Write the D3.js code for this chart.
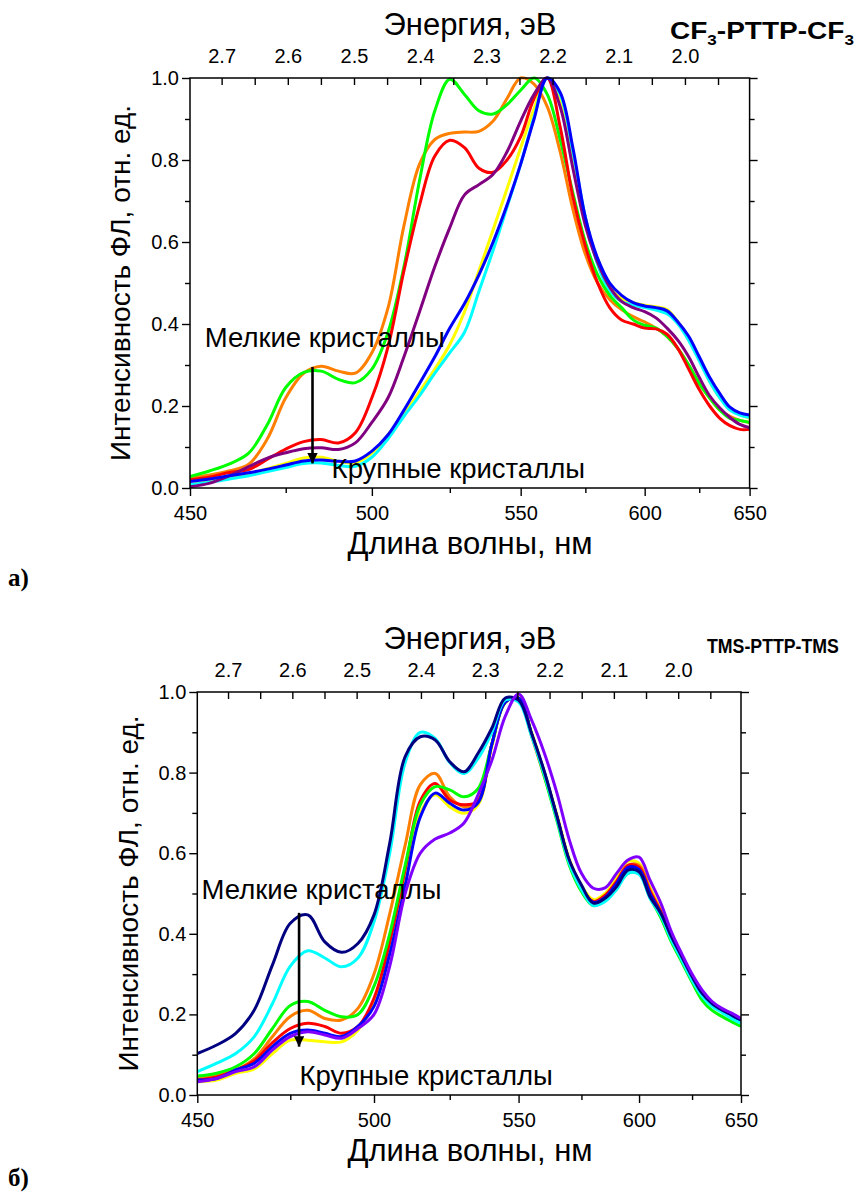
<!DOCTYPE html>
<html>
<head>
<meta charset="utf-8">
<script src="https://d3js.org/d3.v7.min.js"></script>
<style>
  body { margin: 0; background: #fff; }
  text { font-family: "Liberation Sans", Arial, sans-serif; fill: #000; }
</style>
</head>
<body>
<div id="chart"></div>
<script>
// энергия = HC / длина волны (нижняя ось), верхняя ось в исходнике чуть сдвинута
const HC = 1240;
const HC_TOP = 1236.5;

const wavelengths = d3.range(450, 651, 5);
const energyTicks = [2.7, 2.6, 2.5, 2.4, 2.3, 2.2, 2.1, 2.0];
const energyMinor = [2.65, 2.55, 2.45, 2.35, 2.25, 2.15, 2.05, 1.95];
const wavelengthTicks = [450, 500, 550, 600, 650];
const wavelengthMinor = [475, 525, 575, 625];
const yTicks = [0, 0.2, 0.4, 0.6, 0.8, 1.0];
const yMinor = [0.1, 0.3, 0.5, 0.7, 0.9];

// а) CF3-PTTP-CF3
const topYellow = [0.008,0.015,0.025,0.035,0.047,0.06,0.073,0.075,0.065,0.062,0.085,0.13,0.18,0.235,0.29,0.35,0.43,0.53,0.63,0.73,0.83,0.925,1.0,0.95,0.81,0.66,0.55,0.49,0.462,0.452,0.446,0.442,0.435,0.405,0.365,0.315,0.26,0.22,0.195,0.18,0.17];
const topCyan = [0.008,0.014,0.022,0.03,0.04,0.05,0.06,0.061,0.055,0.053,0.075,0.12,0.175,0.225,0.28,0.33,0.38,0.48,0.58,0.685,0.79,0.905,1.0,0.96,0.82,0.66,0.545,0.48,0.455,0.446,0.44,0.434,0.425,0.4,0.36,0.31,0.26,0.22,0.19,0.178,0.172];
const topOrange = [0.025,0.032,0.042,0.058,0.12,0.22,0.28,0.297,0.285,0.28,0.33,0.44,0.64,0.79,0.85,0.865,0.868,0.87,0.895,0.95,1.0,0.985,0.93,0.82,0.68,0.57,0.5,0.46,0.435,0.418,0.405,0.39,0.37,0.34,0.3,0.255,0.22,0.19,0.175,0.165,0.16];
const topGreen = [0.028,0.042,0.059,0.085,0.155,0.245,0.282,0.285,0.265,0.257,0.29,0.38,0.54,0.75,0.92,0.997,0.96,0.92,0.912,0.935,0.97,1.0,0.96,0.85,0.72,0.6,0.52,0.47,0.44,0.41,0.397,0.39,0.37,0.34,0.3,0.255,0.22,0.19,0.17,0.165,0.16];
const topRed = [0.02,0.027,0.038,0.045,0.07,0.095,0.113,0.118,0.11,0.135,0.22,0.345,0.53,0.69,0.81,0.848,0.83,0.78,0.77,0.8,0.857,0.95,1.0,0.88,0.71,0.59,0.5,0.44,0.41,0.4,0.39,0.388,0.375,0.34,0.29,0.24,0.2,0.17,0.152,0.143,0.143];
const topPurple = [0.003,0.012,0.03,0.052,0.073,0.086,0.096,0.098,0.094,0.11,0.16,0.22,0.32,0.43,0.54,0.635,0.715,0.74,0.765,0.82,0.895,0.96,1.0,0.93,0.78,0.64,0.55,0.49,0.455,0.44,0.43,0.415,0.39,0.36,0.32,0.27,0.225,0.195,0.172,0.155,0.147];
const topBlue = [0.016,0.022,0.03,0.037,0.046,0.056,0.066,0.068,0.065,0.066,0.09,0.13,0.19,0.255,0.32,0.39,0.45,0.52,0.6,0.69,0.79,0.9,1.0,0.965,0.83,0.66,0.56,0.5,0.47,0.452,0.444,0.44,0.432,0.405,0.37,0.32,0.27,0.23,0.197,0.183,0.178];

// б) TMS-PTTP-TMS
const botYellow = [0.033,0.037,0.054,0.065,0.103,0.136,0.136,0.132,0.132,0.161,0.23,0.36,0.54,0.7,0.745,0.715,0.699,0.72,0.865,0.975,0.985,0.9,0.8,0.695,0.585,0.52,0.485,0.5,0.54,0.58,0.575,0.515,0.46,0.4,0.345,0.295,0.255,0.23,0.212,0.2,0.19];
const botOrange = [0.041,0.05,0.062,0.09,0.145,0.195,0.21,0.19,0.186,0.215,0.3,0.45,0.62,0.77,0.798,0.74,0.715,0.73,0.87,0.975,0.985,0.89,0.79,0.69,0.58,0.515,0.48,0.495,0.53,0.57,0.57,0.51,0.455,0.395,0.34,0.29,0.25,0.225,0.21,0.198,0.185];
const botRed = [0.037,0.045,0.062,0.085,0.13,0.165,0.178,0.17,0.153,0.17,0.24,0.38,0.56,0.73,0.773,0.732,0.72,0.73,0.87,0.975,0.985,0.895,0.795,0.69,0.58,0.515,0.48,0.495,0.53,0.57,0.565,0.505,0.455,0.395,0.34,0.29,0.25,0.225,0.21,0.2,0.188];
const botGreen = [0.047,0.054,0.07,0.103,0.165,0.222,0.232,0.21,0.194,0.2,0.27,0.4,0.57,0.72,0.765,0.757,0.74,0.76,0.87,0.975,0.985,0.895,0.79,0.68,0.57,0.505,0.47,0.485,0.515,0.55,0.55,0.49,0.44,0.38,0.33,0.28,0.235,0.21,0.195,0.182,0.17];
const botBlue = [0.037,0.041,0.062,0.079,0.12,0.153,0.161,0.153,0.145,0.17,0.22,0.35,0.52,0.69,0.749,0.724,0.707,0.725,0.87,0.975,0.985,0.895,0.8,0.69,0.58,0.515,0.478,0.49,0.525,0.565,0.56,0.5,0.45,0.39,0.34,0.29,0.25,0.225,0.21,0.195,0.185];
const botCyan = [0.058,0.079,0.103,0.145,0.227,0.32,0.358,0.34,0.318,0.34,0.43,0.6,0.825,0.9,0.885,0.825,0.798,0.835,0.9,0.98,0.975,0.89,0.795,0.685,0.575,0.51,0.47,0.48,0.51,0.55,0.548,0.488,0.445,0.385,0.335,0.285,0.245,0.22,0.205,0.19,0.178];
const botNavy = [0.103,0.124,0.153,0.211,0.323,0.426,0.447,0.38,0.354,0.376,0.447,0.625,0.84,0.889,0.881,0.827,0.802,0.848,0.91,0.985,0.98,0.897,0.802,0.691,0.583,0.521,0.476,0.488,0.517,0.558,0.554,0.492,0.451,0.393,0.343,0.294,0.252,0.227,0.211,0.199,0.186];
const botViolet = [0.033,0.041,0.058,0.07,0.112,0.145,0.157,0.149,0.141,0.165,0.2,0.32,0.5,0.6,0.635,0.65,0.675,0.745,0.83,0.94,0.995,0.93,0.848,0.749,0.633,0.55,0.513,0.514,0.55,0.583,0.59,0.533,0.476,0.405,0.35,0.3,0.26,0.232,0.215,0.203,0.19];

const W = 858, H = 1195;
const svg = d3.select("#chart").append("svg")
  .attr("width", W)
  .attr("height", H)
  .style("background", "#fff");

const panels = [
  {
    left: 190, right: 749.6, top: 78, bottom: 488,
    title: ["CF", "3", "-PTTP-CF", "3"], titleX: 670, titleLen: 184, titleSize: 23,
    letter: "а)", letterY: 586,
    yLabelX: 130,
    series: [
      [topYellow, "#ffff00"], [topCyan, "#00ffff"], [topOrange, "#ff8000"],
      [topGreen, "#00ff00"], [topRed, "#ff0000"], [topPurple, "#800080"], [topBlue, "#0000ff"]
    ],
    small: [453.7, 0.344], big: [488, 0.024], arrow: [482.5, 0.295, 0.06]
  },
  {
    left: 197.3, right: 741, top: 692, bottom: 1095,
    title: ["TMS-PTTP-TMS"], titleX: 707, titleLen: 132, titleSize: 21,
    letter: "б)", letterY: 1186,
    yLabelX: 138,
    series: [
      [botYellow, "#ffff00"], [botOrange, "#ff8000"], [botRed, "#ff0000"], [botGreen, "#00ff00"],
      [botBlue, "#0000ff"], [botCyan, "#00ffff"], [botNavy, "#000080"], [botViolet, "#8000ff"]
    ],
    small: [451.1, 0.486], big: [477.6, 0.025], arrow: [477.5, 0.452, 0.12]
  }
];

svg.append("defs").append("marker")
  .attr("id", "head")
  .attr("viewBox", "0 0 10 10")
  .attr("refX", 10).attr("refY", 5)
  .attr("markerWidth", 6).attr("markerHeight", 4)
  .attr("markerUnits", "strokeWidth")
  .attr("orient", "auto")
  .append("path").attr("d", "M0,0 L10,5 L0,10 Z").attr("fill", "#000");

panels.forEach((p, k) => {
  const g = svg.append("g");
  const x = d3.scaleLinear().domain([HC / 450, HC / 650]).range([p.left, p.right]);
  const y = d3.scaleLinear().domain([0, 1]).range([p.bottom, p.top]);
  const xw = (w) => x(HC / w);

  g.append("clipPath").attr("id", "clip" + k)
    .append("rect")
    .attr("x", p.left).attr("y", p.top - 3)
    .attr("width", p.right - p.left).attr("height", p.bottom - p.top + 3);

  const line = d3.line()
    .x((d, i) => xw(wavelengths[i]))
    .y((d) => y(d))
    .curve(d3.curveCatmullRom);

  g.append("g").attr("clip-path", `url(#clip${k})`)
    .selectAll("path")
    .data(p.series)
    .join("path")
    .attr("d", (s) => line(s[0]))
    .attr("fill", "none")
    .attr("stroke", (s) => s[1])
    .attr("stroke-width", 3)
    .attr("stroke-linejoin", "round");

  // рамка
  g.append("rect")
    .attr("x", p.left).attr("y", p.top)
    .attr("width", p.right - p.left).attr("height", p.bottom - p.top)
    .attr("fill", "none").attr("stroke", "#000").attr("stroke-width", 1.5);

  const styleAxis = (sel) => {
    sel.select(".domain").remove();
    sel.selectAll("line").attr("stroke", "#000").attr("stroke-width", 1.4);
    sel.selectAll("text").style("font-size", "20px").attr("fill", "#000")
      .style("font-family", "'Liberation Sans', Arial, sans-serif");
  };

  // нижняя ось: длина волны
  g.append("g").attr("transform", `translate(0,${p.bottom})`)
    .call(d3.axisBottom(x).tickValues(wavelengthTicks.map((w) => HC / w))
      .tickFormat((e) => Math.round(HC / e)).tickSizeInner(8).tickSizeOuter(0).tickPadding(10))
    .call(styleAxis);
  g.append("g").attr("transform", `translate(0,${p.bottom})`)
    .call(d3.axisBottom(x).tickValues(wavelengthMinor.map((w) => HC / w))
      .tickFormat("").tickSizeInner(5).tickSizeOuter(0))
    .call(styleAxis);

  // верхняя ось: энергия
  g.append("g").attr("transform", `translate(0,${p.top})`)
    .call(d3.axisTop(x).tickValues(energyTicks.map((e) => e * HC / HC_TOP))
      .tickFormat((e) => (e * HC_TOP / HC).toFixed(1)).tickSizeInner(-7).tickSizeOuter(0).tickPadding(15))
    .call(styleAxis);
  g.append("g").attr("transform", `translate(0,${p.top})`)
    .call(d3.axisTop(x).tickValues(energyMinor.map((e) => e * HC / HC_TOP))
      .tickFormat("").tickSizeInner(-7).tickSizeOuter(0))
    .call(styleAxis);

  // левая и правая оси
  g.append("g").attr("transform", `translate(${p.left},0)`)
    .call(d3.axisLeft(y).tickValues(yTicks).tickFormat(d3.format(".1f"))
      .tickSizeInner(8).tickSizeOuter(0).tickPadding(3))
    .call(styleAxis);
  g.append("g").attr("transform", `translate(${p.left},0)`)
    .call(d3.axisLeft(y).tickValues(yMinor).tickFormat("").tickSizeInner(5).tickSizeOuter(0))
    .call(styleAxis);
  g.append("g").attr("transform", `translate(${p.right},0)`)
    .call(d3.axisRight(y).tickValues(yTicks).tickFormat("").tickSizeInner(8).tickSizeOuter(0))
    .call(styleAxis);
  g.append("g").attr("transform", `translate(${p.right},0)`)
    .call(d3.axisRight(y).tickValues(yMinor).tickFormat("").tickSizeInner(5).tickSizeOuter(0))
    .call(styleAxis);

  // подписи осей
  g.append("text")
    .attr("x", 470).attr("y", p.top - 43)
    .attr("text-anchor", "middle")
    .style("font-size", "31px")
    .text("Энергия, эВ");

  g.append("text")
    .attr("x", 470).attr("y", p.bottom + 66)
    .attr("text-anchor", "middle")
    .style("font-size", "31px")
    .text("Длина волны, нм");

  g.append("text")
    .attr("transform", "rotate(-90)")
    .attr("x", -(p.top + p.bottom) / 2)
    .attr("y", p.yLabelX)
    .attr("text-anchor", "middle")
    .style("font-size", "28px")
    .text("Интенсивность ФЛ, отн. ед.");

  // название образца (узкий жирный шрифт — сжимаем по ширине)
  const t = g.append("text")
    .style("font-size", p.titleSize + "px").style("font-weight", "bold");
  p.title.forEach((part, i) => {
    const sub = i % 2 === 1;
    t.append("tspan")
      .attr("dy", sub ? 6 : (i > 0 ? -6 : 0))
      .style("font-size", sub ? "14px" : p.titleSize + "px")
      .text(part);
  });
  const natural = t.node().getComputedTextLength();
  t.attr("transform", `translate(${p.titleX},${p.top - 39}) scale(${p.titleLen / natural},1)`);

  g.append("text")
    .attr("x", 8).attr("y", p.letterY)
    .style("font-family", "'Liberation Serif', 'Times New Roman', serif")
    .style("font-weight", "bold")
    .style("font-size", "25px")
    .text(p.letter);

  // аннотации
  g.append("text")
    .attr("x", xw(p.small[0])).attr("y", y(p.small[1]))
    .style("font-size", "27.5px")
    .text("Мелкие кристаллы");
  g.append("text")
    .attr("x", xw(p.big[0])).attr("y", y(p.big[1]))
    .style("font-size", "27.5px")
    .text("Крупные кристаллы");

  g.append("line")
    .attr("x1", xw(p.arrow[0])).attr("x2", xw(p.arrow[0]))
    .attr("y1", y(p.arrow[1])).attr("y2", y(p.arrow[2]))
    .attr("stroke", "#000").attr("stroke-width", 2.6)
    .attr("marker-end", "url(#head)");
});
</script>
</body>
</html>
